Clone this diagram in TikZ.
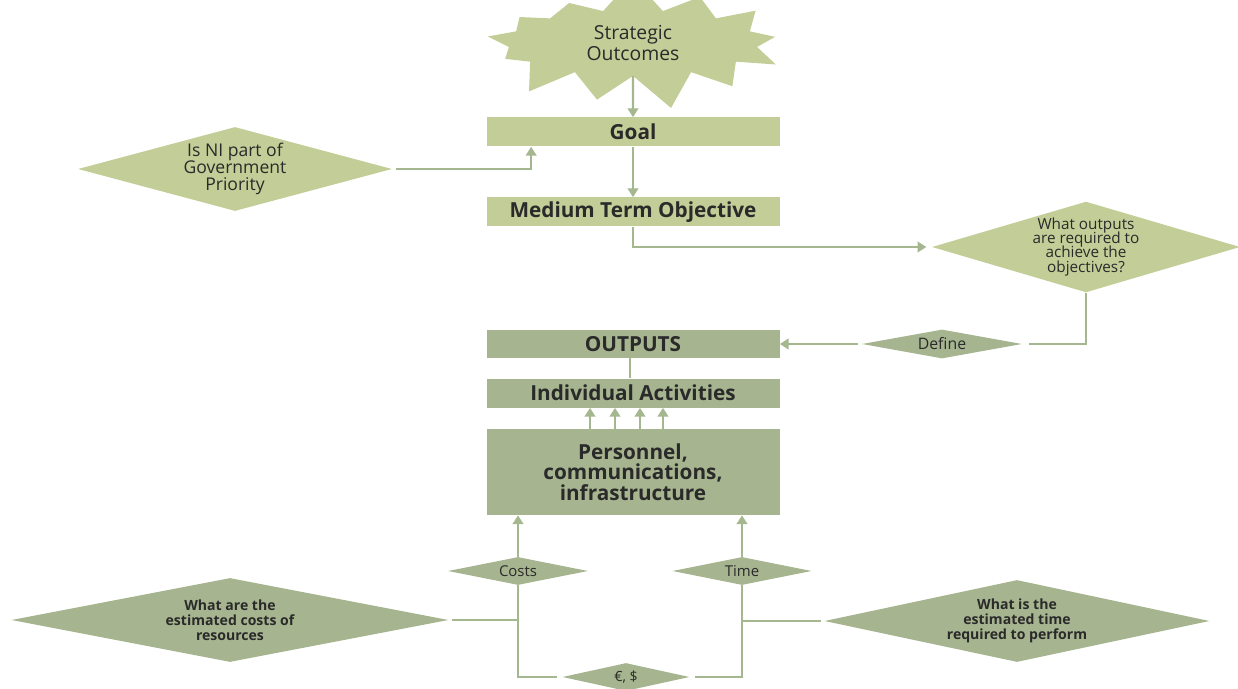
\documentclass[tikz,border=0pt]{standalone}
\usepackage{fontspec}
\setmainfont{Open Sans}
\usetikzlibrary{shapes.geometric,shapes.symbols,arrows.meta}
\definecolor{lightgr}{HTML}{C3CD97}
\definecolor{darkgr}{HTML}{A6B58F}
\definecolor{linegr}{HTML}{A5B78F}
\definecolor{txt}{HTML}{2A2A2A}
\newcommand{\tightlines}{\lineskiplimit=-5pt\relax}
\tikzset{
  box/.style={rectangle,inner sep=0pt,minimum width=5.86cm,minimum height=0.58cm,align=center,text=txt,font=\fontsize{11.8}{11.8}\selectfont\bfseries},
  dia/.style={diamond,inner sep=0pt,align=center,text=txt},
  conn/.style={draw=linegr,line width=1.3pt},
  arr/.style={conn,-{Triangle[length=5pt,width=6pt]}}
}
\begin{document}
\begin{tikzpicture}
                \useasboundingbox (0,0) rectangle (24.76,13.76);
                \node[starburst,starburst points=13,starburst point height=0.7cm,random starburst=7,fill=lightgr,minimum width=6.4cm,minimum height=1.35cm,align=center,text=txt,font=\fontsize{11}{10.5}\selectfont] (S) at (12.66,12.9) {Strategic\\Outcomes};
                \node[box,fill=lightgr] (G) at (12.66,11.12) {Goal};
                \node[box,fill=lightgr] (MTO) at (12.66,9.52) {Medium Term Objective};
                
                \node[dia,fill=lightgr,shape aspect=3.74,minimum width=6.28cm,minimum height=1.68cm,font=\fontsize{10}{9.7}\selectfont] (GOV) at (4.7,10.38) {Is NI part of\\Government\\Priority};
                \node[dia,fill=lightgr,shape aspect=3.2,minimum width=6.16cm,minimum height=1.66cm,font=\fontsize{8.7}{8}\selectfont\tightlines] (OQ) at (21.72,8.82) {What outputs\\are required to\\achieve the\\objectives?};
                
                \node[dia,fill=darkgr,shape aspect=5.5,minimum width=3.2cm,minimum height=0.58cm,font=\fontsize{9}{9}\selectfont] (DEF) at (18.84,6.88) {Define};
                \node[box,fill=darkgr,minimum height=0.56cm] (OUT) at (12.66,6.88) {OUTPUTS};
                \node[box,fill=darkgr] (IA) at (12.66,5.9) {Individual Activities};
                \node[box,fill=darkgr,minimum height=1.72cm] (P) at (12.66,4.32) {Personnel,\\communications,\\infrastructure};
                
                \node[dia,fill=darkgr,shape aspect=5,minimum width=2.8cm,minimum height=0.56cm,font=\fontsize{8.5}{8.5}\selectfont] (C) at (10.36,2.34) {Costs};
                \node[dia,fill=darkgr,shape aspect=5,minimum width=2.78cm,minimum height=0.56cm,font=\fontsize{8.5}{8.5}\selectfont] (T) at (14.84,2.34) {Time};
                \node[dia,fill=darkgr,shape aspect=5.2,minimum width=8.74cm,minimum height=1.68cm,font=\fontsize{8}{8.5}\selectfont\bfseries] (CQ) at (4.6,1.36) {What are the\\estimated\ costs of\\resources};
                \node[dia,fill=darkgr,shape aspect=4.7,minimum width=7.7cm,minimum height=1.64cm,font=\fontsize{8}{8.5}\selectfont\bfseries] (TQ) at (20.34,1.34) {What is the\\estimated\ time\\required to perform};
                \node[dia,fill=darkgr,shape aspect=4.5,minimum width=2.54cm,minimum height=0.56cm,font=\fontsize{8}{8}\selectfont] (M) at (12.52,0.22) {€, \$};
                
                % top chain
                \draw[arr] (S.south |- 0,12.24) -- (G);
                \draw[arr] (G) -- (MTO);
                \draw[arr] ([xshift=2pt]GOV.east) -| ([xshift=0.9cm]G.south west);
                \draw[arr] (MTO.south) |- ([xshift=-3pt]OQ.west);
                
                % outputs
                \draw[conn] (OQ.south) |- ([xshift=4pt]DEF.east);
                \draw[arr] ([xshift=-2pt]DEF.west) -- (OUT.east);
                \draw[conn] ([xshift=-0.06cm]OUT.south) -- ([xshift=-0.06cm]IA.north);
                \foreach \dx in {-0.86,-0.36,0.14,0.6}
                    \draw[arr] ([xshift=\dx cm]P.north) -- ([xshift=\dx cm]IA.south);
                
                % resources
                \draw[arr] (C.north) -- (C.north |- P.south);
                \draw[arr] (T.north) -- (T.north |- P.south);
                \draw[conn] ([xshift=2pt]CQ.east) -- (CQ.east -| C.south);
                \draw[conn] ([xshift=-2pt]TQ.west) -- (TQ.west -| T.south);
                \draw[conn] (C.south) |- ([xshift=-3pt]M.west);
                \draw[conn] (T.south) |- ([xshift=3pt]M.east);
            \end{tikzpicture}
\end{document}
